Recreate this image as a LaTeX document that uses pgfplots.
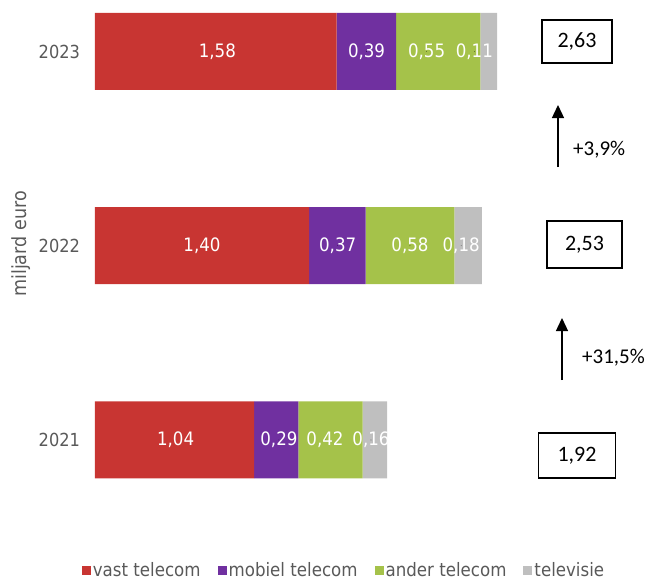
\documentclass[border=0pt]{standalone}
\usepackage{fontspec}
\setmainfont{DejaVu Sans}
\newfontfamily\condfont{DejaVu Sans}[FakeStretch=0.9]
\newfontfamily\calfont{Carlito}
\usepackage{pgfplots}
\pgfplotsset{compat=1.18}
\usetikzlibrary{arrows.meta}
\definecolor{cred}{HTML}{C83532}
\definecolor{cpurple}{HTML}{7030A0}
\definecolor{cgreen}{HTML}{A5C24A}
\definecolor{cgray}{HTML}{BFBFBF}
\definecolor{txtgray}{HTML}{595959}
\pgfplotsset{
  legsq/.style={legend image code/.code={\fill[##1] (0pt,-4.5pt) rectangle (9pt,4.5pt);}},
  geom/.style={at={(95pt,-520pt)}, anchor=south west, scale only axis,
    width=554pt, height=520pt, xmin=0, xmax=3.6233, ymin=-0.412, ymax=2.265, clip=false},
}
\begin{document}
\begin{tikzpicture}
\path[use as bounding box] (0pt,0pt) rectangle (649pt,-581pt);
\begin{axis}[geom,
  xbar stacked, bar width=77pt,
  axis line style={draw=none}, tick style={draw=none}, major tick length=0pt,
  xtick=\empty, ytick={0,1,2}, yticklabels={2021,2022,2023},
  yticklabel style={font=\condfont\fontsize{18}{21}\selectfont, text=txtgray, xshift=-11.5pt},
  legend columns=4, legend cell align=left,
  legend style={draw=none, fill=none, at={(axis description cs:0.4495,-0.097)}, anchor=center,
    font=\condfont\fontsize{18.5}{21}\selectfont, text=txtgray, inner sep=0pt,
    nodes={inner ysep=1pt},
    /tikz/every even column/.append style={column sep=15pt}},
]
\addplot[fill=cred, draw=none, legsq] coordinates {(1.04,0) (1.40,1) (1.58,2)};
\addlegendentry{vast telecom}
\addplot[fill=cpurple, draw=none, legsq] coordinates {(0.29,0) (0.37,1) (0.39,2)};
\addlegendentry{mobiel telecom}
\addplot[fill=cgreen, draw=none, legsq] coordinates {(0.42,0) (0.58,1) (0.55,2)};
\addlegendentry{ander telecom}
\addplot[fill=cgray, draw=none, legsq] coordinates {(0.16,0) (0.18,1) (0.11,2)};
\addlegendentry{televisie}
\end{axis}
\begin{axis}[geom, hide axis]
\addplot[only marks, mark=*, mark size=0.01pt, mark options={draw=none, fill=none},
  nodes near coords, point meta=explicit symbolic,
  nodes near coords style={anchor=center, text=white, font=\condfont\fontsize{18.5}{21}\selectfont}]
  table[meta=lab] {
x y lab
0.527 0 1,04
1.203 0 0,29
1.504 0 0,42
1.805 0 0,16
0.70 1 1,40
1.587 1 0,37
2.06 1 0,58
2.395 1 0,18
0.80 2 1,58
1.776 2 0,39
2.169 2 0,55
2.481 2 0,11
};
\end{axis}
\node[rotate=90, text=txtgray, font=\condfont\fontsize{19.5}{22}\selectfont] at (21pt,-244pt) {miljard euro};
\node[draw=black, line width=1.3pt, minimum width=70pt, minimum height=43pt, font=\calfont\fontsize{22}{26}\selectfont] at (577pt,-41.5pt) {2,63};
\node[draw=black, line width=1.3pt, minimum width=75pt, minimum height=47pt, font=\calfont\fontsize{22}{26}\selectfont] at (584.5pt,-244.5pt) {2,53};
\node[draw=black, line width=1.3pt, minimum width=77pt, minimum height=45pt, font=\calfont\fontsize{22}{26}\selectfont] at (577pt,-455.5pt) {1,92};
\draw[-{Triangle[length=13pt,width=12pt]}, line width=1.3pt] (558pt,-167pt) -- (558pt,-105pt);
\node[anchor=west, inner sep=0pt, font=\calfont\fontsize{21}{25}\selectfont] at (573pt,-150pt) {+3,9\%};
\draw[-{Triangle[length=13pt,width=12pt]}, line width=1.3pt] (562pt,-380pt) -- (562pt,-318pt);
\node[anchor=west, inner sep=0pt, font=\calfont\fontsize{21}{25}\selectfont] at (582pt,-358pt) {+31,5\%};
\end{tikzpicture}
\end{document}
